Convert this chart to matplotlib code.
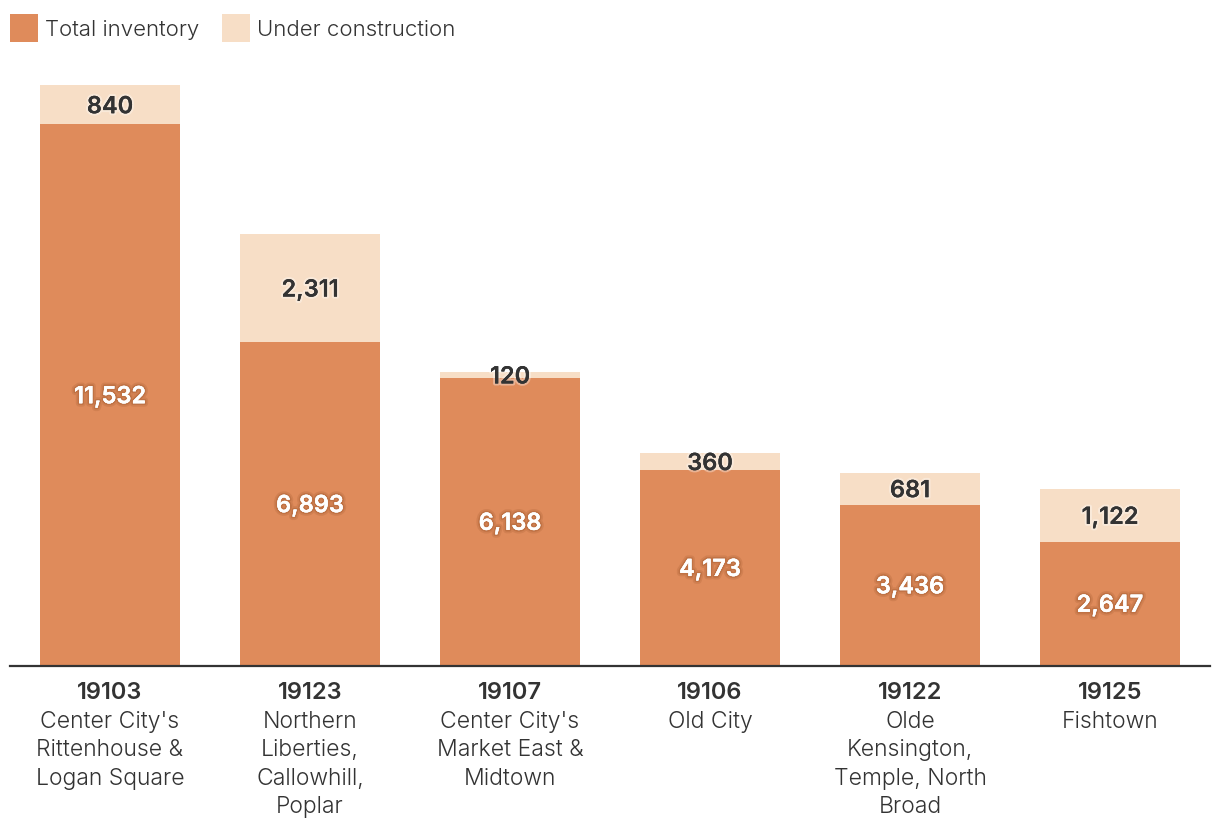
import matplotlib
matplotlib.use("Agg")
import matplotlib.pyplot as plt
import matplotlib.patheffects as pe
from matplotlib.patches import Rectangle

zips = ["19103", "19123", "19107", "19106", "19122", "19125"]
names = ["Center City's\nRittenhouse &\nLogan Square",
         "Northern\nLiberties,\nCallowhill,\nPoplar",
         "Center City's\nMarket East &\nMidtown",
         "Old City",
         "Olde\nKensington,\nTemple, North\nBroad",
         "Fishtown"]
inventory = [11532, 6893, 6138, 4173, 3436, 2647]
construction = [840, 2311, 120, 360, 681, 1122]

C_INV = "#DF8B5B"
C_CON = "#F7DEC6"
C_TXT = "#333333"
FONT = "Inter"
PX = 0.72  # points per pixel at dpi 100

W, H = 1220, 834
fig = plt.figure(figsize=(W / 100, H / 100), dpi=100)
ax = fig.add_axes([10 / W, (H - 666) / H, 1200 / W, (666 - 85) / H])

x = list(range(len(zips)))
ax.bar(x, inventory, width=0.7, color=C_INV, linewidth=0)
ax.bar(x, construction, width=0.7, bottom=inventory, color=C_CON, linewidth=0)
ax.set_xlim(-0.5, len(zips) - 0.5)
ax.set_ylim(0, max(i + c for i, c in zip(inventory, construction)))
ax.axis("off")
ax.axhline(0, color="#333333", linewidth=1.6, clip_on=False)

white_fx = [pe.withStroke(linewidth=5, foreground=(0.45, 0.2, 0.05, 0.12)),
            pe.withStroke(linewidth=2.5, foreground=(0.45, 0.2, 0.05, 0.18)), pe.Normal()]
dark_fx = [pe.withStroke(linewidth=3, foreground=(1, 1, 1, 0.35)), pe.Normal()]

for xi, inv, con in zip(x, inventory, construction):
    ax.annotate(f"{inv:,}", xy=(xi, inv / 2), xytext=(0, -2 * PX),
                textcoords="offset points", ha="center", va="center", color="white",
                fontsize=17, fontweight="semibold", family=FONT, path_effects=white_fx)
    ax.annotate(f"{con:,}", xy=(xi, inv + con / 2), xytext=(0, -2.5 * PX),
                textcoords="offset points", ha="center", va="center", color=C_TXT,
                fontsize=17, fontweight="semibold", family=FONT, path_effects=dark_fx)

for xi, z, n in zip(x, zips, names):
    ax.annotate(z, xy=(xi, 0), xycoords=("data", "axes fraction"),
                xytext=(0, -27 * PX), textcoords="offset points",
                ha="center", va="center", fontsize=17, fontweight="semibold",
                color=C_TXT, family=FONT)
    ax.annotate(n, xy=(xi, 0), xycoords=("data", "axes fraction"),
                xytext=(0, -45 * PX), textcoords="offset points",
                ha="center", va="top", fontsize=16.5, fontweight=300, color=C_TXT,
                family=FONT, linespacing=1.37)

# legend
fig.add_artist(Rectangle((10 / W, 1 - 42 / H), 28 / W, 28 / H,
                         transform=fig.transFigure, color=C_INV, linewidth=0))
fig.text(45 / W, 1 - 30 / H, "Total inventory", ha="left", va="center",
         fontsize=16, fontweight=300, color=C_TXT, family=FONT)
fig.add_artist(Rectangle((222 / W, 1 - 42 / H), 28 / W, 28 / H,
                         transform=fig.transFigure, color=C_CON, linewidth=0))
fig.text(257 / W, 1 - 30 / H, "Under construction", ha="left", va="center",
         fontsize=16, fontweight=300, color=C_TXT, family=FONT)

fig.savefig("out.png", dpi=100, facecolor="white")
